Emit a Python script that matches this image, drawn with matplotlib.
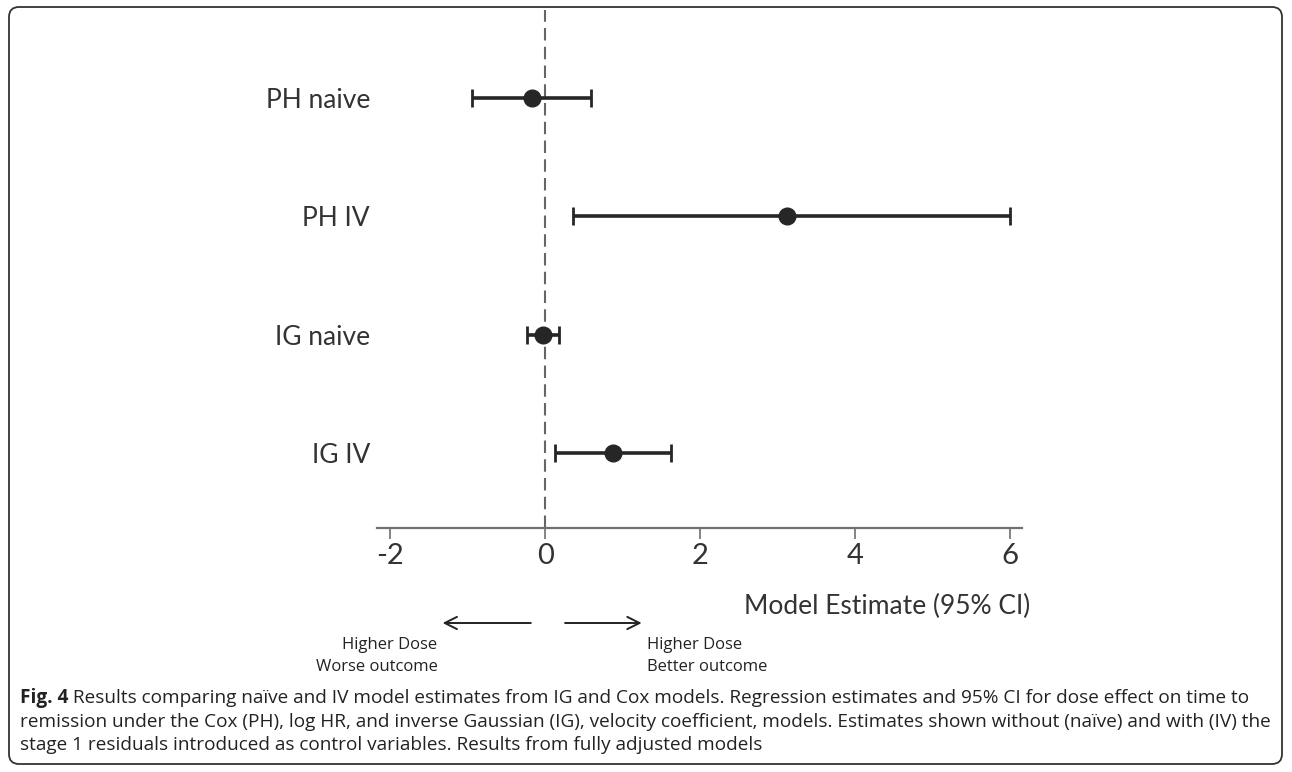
import matplotlib
matplotlib.use("Agg")
import matplotlib.pyplot as plt
import matplotlib.transforms as mtransforms
from matplotlib.patches import FancyBboxPatch

# data
models = ["PH naive", "PH IV", "IG naive", "IG IV"]
estimate = [-0.17, 3.12, -0.03, 0.87]
ci_low = [-0.95, 0.36, -0.24, 0.13]
ci_high = [0.59, 5.99, 0.18, 1.62]
xticks = [-2, 0, 2, 4, 6]

caption_bold = "Fig. 4"
caption_lines = [
    " Results comparing naïve and IV model estimates from IG and Cox models. Regression estimates and 95% CI for dose effect on time to",
    "remission under the Cox (PH), log HR, and inverse Gaussian (IG), velocity coefficient, models. Estimates shown without (naïve) and with (IV) the",
    "stage 1 residuals introduced as control variables. Results from fully adjusted models",
]

W, H = 1292, 772
fig = plt.figure(figsize=(W / 100, H / 100), dpi=100)
plt.rcParams['font.family'] = ['Lato', 'DejaVu Sans']

ax = fig.add_axes([377 / W, 1 - 528 / H, 645 / W, 518 / H])
ypos = [len(models) - i for i in range(len(models))]

err = [[e - l for e, l in zip(estimate, ci_low)], [h - e for e, h in zip(estimate, ci_high)]]
ax.axvline(0, color="#666666", lw=1.5, dashes=[6, 3], zorder=1)
ax.errorbar(estimate, ypos, xerr=err, fmt="o", color="#262626", ms=12,
            elinewidth=2.6, capsize=6.5, capthick=2, zorder=3)

ax.set_xlim(-2.17, 6.15)
ax.set_ylim(0.37, 4.74)
ax.set_xticks(xticks)
ax.set_xticklabels([str(t) for t in xticks], fontsize=21, color="#333333")
ax.set_yticks(ypos)
ax.set_yticklabels(models, fontsize=19, color="#333333")
ax.tick_params(axis="y", length=0, pad=5)
ax.tick_params(axis="x", direction="out", length=8, width=1.2, color="#707070", pad=3)
for s in ["top", "right", "left"]:
    ax.spines[s].set_visible(False)
ax.spines["bottom"].set_color("#707070")
ax.spines["bottom"].set_linewidth(1.6)

# annotations below the axis: x in data units, y in figure pixels
trans = mtransforms.blended_transform_factory(ax.transData, fig.transFigure)
def fy(py):
    return 1 - py / H

ax.text(6.25, fy(606), "Model Estimate (95% CI)", transform=trans, ha="right", va="center",
        fontsize=19, color="#333333", clip_on=False)
ax.annotate("", xy=(-1.36, fy(623)), xytext=(-0.15, fy(623)), xycoords=trans, textcoords=trans,
            arrowprops=dict(arrowstyle="->", color="#222222", lw=1.4, mutation_scale=22))
ax.annotate("", xy=(1.28, fy(623)), xytext=(0.22, fy(623)), xycoords=trans, textcoords=trans,
            arrowprops=dict(arrowstyle="->", color="#222222", lw=1.4, mutation_scale=22))
ax.text(-1.39, fy(656), "Higher Dose\nWorse outcome", transform=trans, ha="right", va="center",
        multialignment="right", fontsize=12, family=["Open Sans", "DejaVu Sans"],
        color="#222222", linespacing=1.5, clip_on=False)
ax.text(1.31, fy(656), "Higher Dose\nBetter outcome", transform=trans, ha="left", va="center",
        fontsize=12, family=["Open Sans", "DejaVu Sans"], color="#222222", linespacing=1.5,
        clip_on=False)

# caption
cap_font = ["Open Sans", "DejaVu Sans"]
cap_size = 13.7
t0 = fig.text(20 / W, fy(698), caption_bold, fontsize=cap_size, fontweight="bold", family=cap_font,
              va="center", ha="left", color="#222222")
r = fig.canvas.get_renderer()
bb = t0.get_window_extent(renderer=r)
fig.text(bb.x1 / W, fy(698), caption_lines[0], fontsize=cap_size, family=cap_font,
         va="center", ha="left", color="#222222")
fig.text(20 / W, fy(722), caption_lines[1], fontsize=cap_size, family=cap_font,
         va="center", ha="left", color="#222222")
fig.text(20 / W, fy(745), caption_lines[2], fontsize=cap_size, family=cap_font,
         va="center", ha="left", color="#222222")

# rounded frame round the whole figure
frame = FancyBboxPatch((9, 8), W - 19, H - 15, boxstyle="round,pad=0,rounding_size=10",
                       transform=None, fill=False, edgecolor="#333333", lw=1.3)
fig.patches.append(frame)

fig.savefig("out.png", dpi=100)
